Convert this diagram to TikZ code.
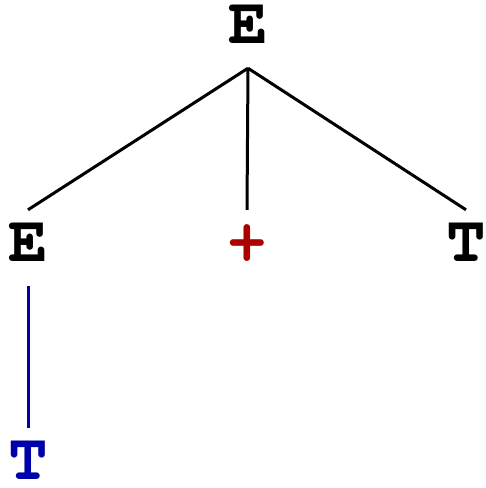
\documentclass[tikz,border=0pt]{standalone}
\usepackage[T1]{fontenc}
\usetikzlibrary{positioning}
\definecolor{opred}{HTML}{AA0000}
\definecolor{leafblue}{HTML}{0000AA}
\newcommand{\courbold}{\fontencoding{T1}\fontfamily{pcr}\fontseries{b}\selectfont}
\tikzset{
  sym/.style={font=\fontsize{66}{66}\courbold, inner sep=0pt, text height=51pt, text depth=25pt},
  edge/.style={line width=3pt, black},
  edgeblue/.style={edge, leafblue},
}

\begin{document}
\begin{tikzpicture}[x=1pt, y=-1pt]
  \useasboundingbox (0,0) rectangle (486,488);
  \node[sym] (root) at (248,30) {E};
  \node[sym] (left) at (28,248) {E};
  \node[sym, text=opred] (plus) at (247,248) {+};
  \node[sym] (right) at (466,248) {T};
  \node[sym, text=leafblue] (leaf) at (28,466) {T};
  \draw[edge] (root.south) -- (left.north);
  \draw[edge] (root.south) -- (plus.north);
  \draw[edge] (root.south) -- (right.north);
  \draw[edgeblue] (left.south) -- (leaf.north);
\end{tikzpicture}
\end{document}
